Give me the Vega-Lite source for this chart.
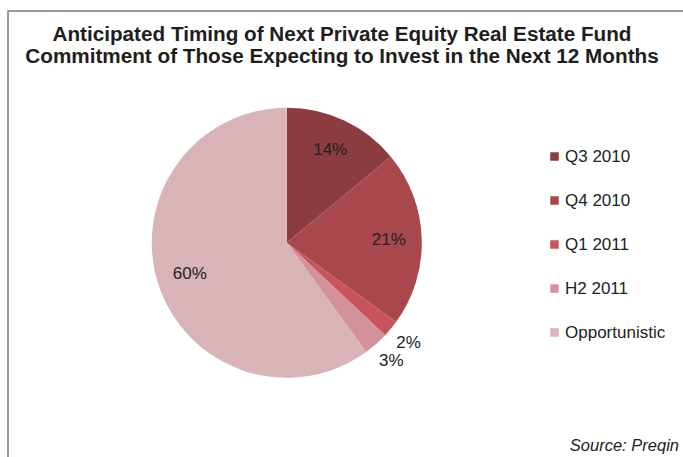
{
  "$schema": "https://vega.github.io/schema/vega-lite/v6.json",
  "width": 680,
  "height": 450,
  "autosize": {"type": "none"},
  "padding": {"left": 8, "top": 11, "right": 0, "bottom": 0},
  "background": "#ffffff",
  "view": {"stroke": "#7a7a7a", "strokeWidth": 1.5},
  "config": {
    "font": "Liberation Sans"
  },
  "title": {
    "text": ["Anticipated Timing of Next Private Equity Real Estate Fund", "Commitment of Those Expecting to Invest in the Next 12 Months"],
    "font": "Liberation Sans",
    "fontSize": 20.7,
    "fontWeight": "bold",
    "color": "#1e1e1e",
    "anchor": "middle",
    "dx": -6,
    "offset": -57,
    "lineHeight": 22.7
  },
  "layer": [
    {
      "data": {"values": [
        {"cat": "Q3 2010", "value": 14, "label": "14%", "rank": 1},
        {"cat": "Q4 2010", "value": 21, "label": "21%", "rank": 2},
        {"cat": "Q1 2011", "value": 2, "label": "2%", "rank": 3},
        {"cat": "H2 2011", "value": 3, "label": "3%", "rank": 4},
        {"cat": "Opportunistic", "value": 60, "label": "60%", "rank": 5}
      ]},
      "layer": [
        {
          "mark": {"type": "arc", "outerRadius": 135, "x": {"expr": "width*0.41"}, "y": {"expr": "height*0.515"}},
          "encoding": {
            "theta": {"field": "value", "type": "quantitative", "stack": true},
            "order": {"field": "rank", "type": "quantitative"},
            "color": {
              "field": "cat",
              "type": "nominal",
              "scale": {
                "domain": ["Q3 2010", "Q4 2010", "Q1 2011", "H2 2011", "Opportunistic"],
                "range": ["#8c3b3f", "#a8484d", "#c6545a", "#d3929a", "#d8b3b8"]
              },
              "legend": {
                "title": null,
                "orient": "none",
                "legendX": 538,
                "legendY": 137,
                "symbolType": "square",
                "symbolSize": 72,
                "symbolStrokeWidth": 0,
                "labelFont": "Liberation Sans",
                "labelFontSize": 17,
                "labelColor": "#222222",
                "labelOffset": 2,
                "rowPadding": 26
              }
            }
          }
        },
        {
          "mark": {"type": "text", "radius": 102, "x": {"expr": "width*0.41"}, "y": {"expr": "height*0.515"}, "font": "Liberation Sans", "fontSize": 17, "fill": "#222222"},
          "encoding": {
            "theta": {"field": "value", "type": "quantitative", "stack": true},
            "order": {"field": "rank", "type": "quantitative"},
            "detail": {"field": "cat", "type": "nominal"},
            "text": {"condition": {"test": "datum.value >= 10", "field": "label"}, "value": ""}
          }
        },
        {
          "mark": {"type": "text", "radius": 158, "x": {"expr": "width*0.41"}, "y": {"expr": "height*0.515"}, "font": "Liberation Sans", "fontSize": 17, "fill": "#222222"},
          "encoding": {
            "theta": {"field": "value", "type": "quantitative", "stack": true},
            "order": {"field": "rank", "type": "quantitative"},
            "detail": {"field": "cat", "type": "nominal"},
            "text": {"condition": {"test": "datum.value < 10", "field": "label"}, "value": ""}
          }
        }
      ]
    },
    {
      "data": {"values": [{"note": "Source: Preqin"}]},
      "mark": {"type": "text", "x": {"expr": "width-9"}, "y": {"expr": "height-10"}, "align": "right", "baseline": "alphabetic", "font": "Liberation Sans", "fontSize": 16.5, "fontStyle": "italic", "fill": "#222222"},
      "encoding": {"text": {"field": "note", "type": "nominal"}}
    }
  ]
}
